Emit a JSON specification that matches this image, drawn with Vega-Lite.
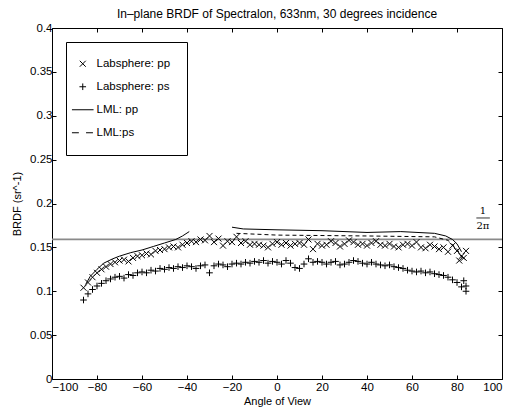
{
  "$schema": "https://vega.github.io/schema/vega-lite/v6.json",
  "width": 450,
  "height": 351,
  "autosize": {"type": "none"},
  "padding": {"left": 52, "top": 28, "right": 10, "bottom": 33},
  "background": "white",
  "title": {"text": "In–plane BRDF of Spectralon, 633nm, 30 degrees incidence", "font": "Liberation Sans", "fontSize": 12, "fontWeight": "normal", "color": "black", "offset": 1},
  "config": {
    "view": {"stroke": null},
    "axis": {"domainColor": "black", "tickColor": "black", "labelColor": "black", "titleColor": "black", "labelFont": "Liberation Sans", "titleFont": "Liberation Sans", "labelFontSize": 11.5, "titleFontSize": 11, "titleFontWeight": "normal", "grid": false, "tickSize": -4, "domainWidth": 1}
  },
  "datasets": {
    "pts": [
      {"a": -86, "v": 0.104, "s": "Labsphere: pp"}, {"a": -84, "v": 0.110, "s": "Labsphere: pp"}, {"a": -82, "v": 0.116, "s": "Labsphere: pp"}, {"a": -80, "v": 0.121, "s": "Labsphere: pp"}, {"a": -78, "v": 0.125, "s": "Labsphere: pp"}, {"a": -76, "v": 0.128, "s": "Labsphere: pp"}, {"a": -74, "v": 0.131, "s": "Labsphere: pp"}, {"a": -72, "v": 0.133, "s": "Labsphere: pp"}, {"a": -70, "v": 0.135, "s": "Labsphere: pp"}, {"a": -68, "v": 0.136, "s": "Labsphere: pp"}, {"a": -66, "v": 0.134, "s": "Labsphere: pp"}, {"a": -64, "v": 0.138, "s": "Labsphere: pp"}, {"a": -62, "v": 0.140, "s": "Labsphere: pp"}, {"a": -60, "v": 0.141, "s": "Labsphere: pp"}, {"a": -58, "v": 0.143, "s": "Labsphere: pp"}, {"a": -56, "v": 0.142, "s": "Labsphere: pp"}, {"a": -54, "v": 0.146, "s": "Labsphere: pp"}, {"a": -52, "v": 0.147, "s": "Labsphere: pp"}, {"a": -50, "v": 0.148, "s": "Labsphere: pp"}, {"a": -48, "v": 0.150, "s": "Labsphere: pp"}, {"a": -46, "v": 0.151, "s": "Labsphere: pp"}, {"a": -44, "v": 0.150, "s": "Labsphere: pp"}, {"a": -42, "v": 0.153, "s": "Labsphere: pp"}, {"a": -40, "v": 0.155, "s": "Labsphere: pp"}, {"a": -38, "v": 0.157, "s": "Labsphere: pp"}, {"a": -36, "v": 0.156, "s": "Labsphere: pp"}, {"a": -34, "v": 0.159, "s": "Labsphere: pp"}, {"a": -32, "v": 0.158, "s": "Labsphere: pp"}, {"a": -30, "v": 0.163, "s": "Labsphere: pp"}, {"a": -28, "v": 0.156, "s": "Labsphere: pp"}, {"a": -26, "v": 0.160, "s": "Labsphere: pp"}, {"a": -24, "v": 0.152, "s": "Labsphere: pp"}, {"a": -22, "v": 0.157, "s": "Labsphere: pp"}, {"a": -20, "v": 0.156, "s": "Labsphere: pp"}, {"a": -18, "v": 0.162, "s": "Labsphere: pp"}, {"a": -16, "v": 0.155, "s": "Labsphere: pp"}, {"a": -14, "v": 0.157, "s": "Labsphere: pp"}, {"a": -12, "v": 0.153, "s": "Labsphere: pp"}, {"a": -10, "v": 0.154, "s": "Labsphere: pp"}, {"a": -8, "v": 0.153, "s": "Labsphere: pp"}, {"a": -6, "v": 0.152, "s": "Labsphere: pp"}, {"a": -4, "v": 0.150, "s": "Labsphere: pp"}, {"a": -2, "v": 0.154, "s": "Labsphere: pp"}, {"a": 0, "v": 0.156, "s": "Labsphere: pp"}, {"a": 2, "v": 0.153, "s": "Labsphere: pp"}, {"a": 4, "v": 0.155, "s": "Labsphere: pp"}, {"a": 6, "v": 0.152, "s": "Labsphere: pp"}, {"a": 8, "v": 0.154, "s": "Labsphere: pp"}, {"a": 10, "v": 0.155, "s": "Labsphere: pp"}, {"a": 12, "v": 0.153, "s": "Labsphere: pp"}, {"a": 14, "v": 0.159, "s": "Labsphere: pp"}, {"a": 16, "v": 0.148, "s": "Labsphere: pp"}, {"a": 18, "v": 0.154, "s": "Labsphere: pp"}, {"a": 20, "v": 0.152, "s": "Labsphere: pp"}, {"a": 22, "v": 0.153, "s": "Labsphere: pp"}, {"a": 24, "v": 0.157, "s": "Labsphere: pp"}, {"a": 26, "v": 0.155, "s": "Labsphere: pp"}, {"a": 28, "v": 0.151, "s": "Labsphere: pp"}, {"a": 30, "v": 0.154, "s": "Labsphere: pp"}, {"a": 32, "v": 0.158, "s": "Labsphere: pp"}, {"a": 34, "v": 0.156, "s": "Labsphere: pp"}, {"a": 36, "v": 0.153, "s": "Labsphere: pp"}, {"a": 38, "v": 0.154, "s": "Labsphere: pp"}, {"a": 40, "v": 0.152, "s": "Labsphere: pp"}, {"a": 42, "v": 0.155, "s": "Labsphere: pp"}, {"a": 44, "v": 0.157, "s": "Labsphere: pp"}, {"a": 46, "v": 0.153, "s": "Labsphere: pp"}, {"a": 48, "v": 0.152, "s": "Labsphere: pp"}, {"a": 50, "v": 0.154, "s": "Labsphere: pp"}, {"a": 52, "v": 0.151, "s": "Labsphere: pp"}, {"a": 54, "v": 0.150, "s": "Labsphere: pp"}, {"a": 56, "v": 0.153, "s": "Labsphere: pp"}, {"a": 58, "v": 0.154, "s": "Labsphere: pp"}, {"a": 60, "v": 0.152, "s": "Labsphere: pp"}, {"a": 62, "v": 0.156, "s": "Labsphere: pp"}, {"a": 64, "v": 0.150, "s": "Labsphere: pp"}, {"a": 66, "v": 0.149, "s": "Labsphere: pp"}, {"a": 68, "v": 0.153, "s": "Labsphere: pp"}, {"a": 70, "v": 0.151, "s": "Labsphere: pp"}, {"a": 72, "v": 0.148, "s": "Labsphere: pp"}, {"a": 74, "v": 0.150, "s": "Labsphere: pp"}, {"a": 76, "v": 0.145, "s": "Labsphere: pp"}, {"a": 78, "v": 0.152, "s": "Labsphere: pp"}, {"a": 80, "v": 0.146, "s": "Labsphere: pp"}, {"a": 81, "v": 0.135, "s": "Labsphere: pp"}, {"a": 82, "v": 0.140, "s": "Labsphere: pp"}, {"a": 83, "v": 0.138, "s": "Labsphere: pp"}, {"a": 84, "v": 0.146, "s": "Labsphere: pp"},
      {"a": -86, "v": 0.090, "s": "Labsphere: ps"}, {"a": -84, "v": 0.097, "s": "Labsphere: ps"}, {"a": -82, "v": 0.102, "s": "Labsphere: ps"}, {"a": -80, "v": 0.106, "s": "Labsphere: ps"}, {"a": -78, "v": 0.109, "s": "Labsphere: ps"}, {"a": -76, "v": 0.112, "s": "Labsphere: ps"}, {"a": -74, "v": 0.114, "s": "Labsphere: ps"}, {"a": -72, "v": 0.116, "s": "Labsphere: ps"}, {"a": -70, "v": 0.117, "s": "Labsphere: ps"}, {"a": -68, "v": 0.115, "s": "Labsphere: ps"}, {"a": -66, "v": 0.119, "s": "Labsphere: ps"}, {"a": -64, "v": 0.118, "s": "Labsphere: ps"}, {"a": -62, "v": 0.121, "s": "Labsphere: ps"}, {"a": -60, "v": 0.122, "s": "Labsphere: ps"}, {"a": -58, "v": 0.121, "s": "Labsphere: ps"}, {"a": -56, "v": 0.124, "s": "Labsphere: ps"}, {"a": -54, "v": 0.123, "s": "Labsphere: ps"}, {"a": -52, "v": 0.126, "s": "Labsphere: ps"}, {"a": -50, "v": 0.125, "s": "Labsphere: ps"}, {"a": -48, "v": 0.127, "s": "Labsphere: ps"}, {"a": -46, "v": 0.126, "s": "Labsphere: ps"}, {"a": -44, "v": 0.128, "s": "Labsphere: ps"}, {"a": -42, "v": 0.127, "s": "Labsphere: ps"}, {"a": -40, "v": 0.129, "s": "Labsphere: ps"}, {"a": -38, "v": 0.128, "s": "Labsphere: ps"}, {"a": -36, "v": 0.126, "s": "Labsphere: ps"}, {"a": -34, "v": 0.129, "s": "Labsphere: ps"}, {"a": -32, "v": 0.130, "s": "Labsphere: ps"}, {"a": -30, "v": 0.121, "s": "Labsphere: ps"}, {"a": -28, "v": 0.129, "s": "Labsphere: ps"}, {"a": -26, "v": 0.131, "s": "Labsphere: ps"}, {"a": -24, "v": 0.130, "s": "Labsphere: ps"}, {"a": -22, "v": 0.128, "s": "Labsphere: ps"}, {"a": -20, "v": 0.131, "s": "Labsphere: ps"}, {"a": -18, "v": 0.132, "s": "Labsphere: ps"}, {"a": -16, "v": 0.131, "s": "Labsphere: ps"}, {"a": -14, "v": 0.133, "s": "Labsphere: ps"}, {"a": -12, "v": 0.132, "s": "Labsphere: ps"}, {"a": -10, "v": 0.134, "s": "Labsphere: ps"}, {"a": -8, "v": 0.133, "s": "Labsphere: ps"}, {"a": -6, "v": 0.135, "s": "Labsphere: ps"}, {"a": -4, "v": 0.132, "s": "Labsphere: ps"}, {"a": -2, "v": 0.134, "s": "Labsphere: ps"}, {"a": 0, "v": 0.133, "s": "Labsphere: ps"}, {"a": 2, "v": 0.131, "s": "Labsphere: ps"}, {"a": 4, "v": 0.135, "s": "Labsphere: ps"}, {"a": 6, "v": 0.132, "s": "Labsphere: ps"}, {"a": 8, "v": 0.127, "s": "Labsphere: ps"}, {"a": 10, "v": 0.126, "s": "Labsphere: ps"}, {"a": 12, "v": 0.131, "s": "Labsphere: ps"}, {"a": 14, "v": 0.137, "s": "Labsphere: ps"}, {"a": 16, "v": 0.133, "s": "Labsphere: ps"}, {"a": 18, "v": 0.134, "s": "Labsphere: ps"}, {"a": 20, "v": 0.133, "s": "Labsphere: ps"}, {"a": 22, "v": 0.131, "s": "Labsphere: ps"}, {"a": 24, "v": 0.133, "s": "Labsphere: ps"}, {"a": 26, "v": 0.134, "s": "Labsphere: ps"}, {"a": 28, "v": 0.130, "s": "Labsphere: ps"}, {"a": 30, "v": 0.131, "s": "Labsphere: ps"}, {"a": 32, "v": 0.133, "s": "Labsphere: ps"}, {"a": 34, "v": 0.135, "s": "Labsphere: ps"}, {"a": 36, "v": 0.134, "s": "Labsphere: ps"}, {"a": 38, "v": 0.132, "s": "Labsphere: ps"}, {"a": 40, "v": 0.131, "s": "Labsphere: ps"}, {"a": 42, "v": 0.133, "s": "Labsphere: ps"}, {"a": 44, "v": 0.131, "s": "Labsphere: ps"}, {"a": 46, "v": 0.130, "s": "Labsphere: ps"}, {"a": 48, "v": 0.129, "s": "Labsphere: ps"}, {"a": 50, "v": 0.130, "s": "Labsphere: ps"}, {"a": 52, "v": 0.128, "s": "Labsphere: ps"}, {"a": 54, "v": 0.127, "s": "Labsphere: ps"}, {"a": 56, "v": 0.126, "s": "Labsphere: ps"}, {"a": 58, "v": 0.124, "s": "Labsphere: ps"}, {"a": 60, "v": 0.123, "s": "Labsphere: ps"}, {"a": 62, "v": 0.122, "s": "Labsphere: ps"}, {"a": 64, "v": 0.123, "s": "Labsphere: ps"}, {"a": 66, "v": 0.121, "s": "Labsphere: ps"}, {"a": 68, "v": 0.122, "s": "Labsphere: ps"}, {"a": 70, "v": 0.120, "s": "Labsphere: ps"}, {"a": 72, "v": 0.119, "s": "Labsphere: ps"}, {"a": 74, "v": 0.118, "s": "Labsphere: ps"}, {"a": 76, "v": 0.116, "s": "Labsphere: ps"}, {"a": 78, "v": 0.113, "s": "Labsphere: ps"}, {"a": 80, "v": 0.110, "s": "Labsphere: ps"}, {"a": 82, "v": 0.105, "s": "Labsphere: ps"}, {"a": 83, "v": 0.112, "s": "Labsphere: ps"}, {"a": 84, "v": 0.100, "s": "Labsphere: ps"}, {"a": 84, "v": 0.106, "s": "Labsphere: ps"}
    ],
    "lml": [
      {"a": -85, "v": 0.108, "s": "LML: pp", "seg": "L"}, {"a": -83, "v": 0.117, "s": "LML: pp", "seg": "L"}, {"a": -80, "v": 0.125, "s": "LML: pp", "seg": "L"}, {"a": -77, "v": 0.132, "s": "LML: pp", "seg": "L"}, {"a": -73, "v": 0.137, "s": "LML: pp", "seg": "L"}, {"a": -70, "v": 0.140, "s": "LML: pp", "seg": "L"}, {"a": -65, "v": 0.144, "s": "LML: pp", "seg": "L"}, {"a": -60, "v": 0.147, "s": "LML: pp", "seg": "L"}, {"a": -55, "v": 0.151, "s": "LML: pp", "seg": "L"}, {"a": -50, "v": 0.155, "s": "LML: pp", "seg": "L"}, {"a": -45, "v": 0.159, "s": "LML: pp", "seg": "L"}, {"a": -42, "v": 0.163, "s": "LML: pp", "seg": "L"}, {"a": -39, "v": 0.168, "s": "LML: pp", "seg": "L"},
      {"a": -20, "v": 0.173, "s": "LML: pp", "seg": "R"}, {"a": -15, "v": 0.171, "s": "LML: pp", "seg": "R"}, {"a": 0, "v": 0.170, "s": "LML: pp", "seg": "R"}, {"a": 20, "v": 0.169, "s": "LML: pp", "seg": "R"}, {"a": 40, "v": 0.167, "s": "LML: pp", "seg": "R"}, {"a": 55, "v": 0.168, "s": "LML: pp", "seg": "R"}, {"a": 70, "v": 0.166, "s": "LML: pp", "seg": "R"}, {"a": 75, "v": 0.163, "s": "LML: pp", "seg": "R"}, {"a": 78, "v": 0.159, "s": "LML: pp", "seg": "R"}, {"a": 80, "v": 0.154, "s": "LML: pp", "seg": "R"}, {"a": 82, "v": 0.145, "s": "LML: pp", "seg": "R"}
    ],
    "lmlps": [
      {"a": -18, "v": 0.166, "s": "LML:ps"}, {"a": 0, "v": 0.164, "s": "LML:ps"}, {"a": 40, "v": 0.163, "s": "LML:ps"}, {"a": 70, "v": 0.162, "s": "LML:ps"}, {"a": 76, "v": 0.158, "s": "LML:ps"}, {"a": 80, "v": 0.148, "s": "LML:ps"}, {"a": 83, "v": 0.135, "s": "LML:ps"}
    ],
    "frac": [
      {"a": 91.5, "v": 0.192, "t": "1"},
      {"a": 91.5, "v": 0.174, "t": "2π"}
    ],
    "fracline": [
      {"a": 88.6, "a2": 94.6, "v": 0.1835}
    ]
  },
  "layer": [
    {
      "data": {"values": [{"v": 0.15915}]},
      "mark": {"type": "rule", "color": "#8a8a8a", "strokeWidth": 1.6},
      "encoding": {"y": {"field": "v", "type": "quantitative", "scale": {"domain": [0, 0.4]}, "axis": null}}
    },
    {
      "data": {"name": "pts"},
      "mark": {"type": "point", "filled": false, "color": "black", "strokeWidth": 1, "size": 36, "opacity": 1},
      "encoding": {
        "x": {"field": "a", "type": "quantitative", "scale": {"domain": [-100, 100], "nice": false}, "axis": {"orient": "bottom", "values": [-100, -80, -60, -40, -20, 0, 20, 40, 60, 80, 100], "title": "Angle of View", "labelPadding": 6, "titlePadding": 3}},
        "y": {"field": "v", "type": "quantitative", "scale": {"domain": [0, 0.4], "nice": false}, "axis": {"orient": "left", "values": [0, 0.05, 0.1, 0.15, 0.2, 0.25, 0.3, 0.35, 0.4], "format": "~g", "title": "BRDF (sr^-1)", "labelPadding": 4, "titlePadding": 7}},
        "shape": {
          "field": "s", "type": "nominal",
          "scale": {"domain": ["Labsphere: pp", "Labsphere: ps", "LML: pp", "LML:ps"], "range": ["M-1,-1L1,1M-1,1L1,-1", "M-1.1,0L1.1,0M0,-1.1L0,1.1", "M-3.6,0L3.6,0", "M-3.6,0L-1.3,0M1.1,0L3.4,0"]},
          "legend": {"title": null, "orient": "none", "legendX": 14, "legendY": 14, "padding": 16, "strokeColor": "black", "fillColor": "white", "labelFont": "Liberation Sans", "labelFontSize": 11.5, "labelColor": "black", "rowPadding": 10, "labelOffset": 8, "symbolSize": 36, "symbolStrokeWidth": 1, "symbolStrokeColor": "black", "symbolOffset": -5, "labelLimit": 250, "labelExpr": "datum.label + '\u00a0\u00a0\u00a0\u00a0\u00a0\u00a0'"}
        }
      }
    },
    {
      "data": {"name": "lml"},
      "mark": {"type": "line", "color": "black", "strokeWidth": 1},
      "encoding": {
        "x": {"field": "a", "type": "quantitative", "axis": {"orient": "top", "labels": false, "title": null, "values": [-100, -80, -60, -40, -20, 0, 20, 40, 60, 80, 100]}},
        "y": {"field": "v", "type": "quantitative", "axis": {"orient": "right", "labels": false, "title": null, "values": [0, 0.05, 0.1, 0.15, 0.2, 0.25, 0.3, 0.35, 0.4]}},
        "detail": {"field": "seg", "type": "nominal"}
      }
    },
    {
      "data": {"name": "lmlps"},
      "mark": {"type": "line", "color": "black", "strokeWidth": 1, "strokeDash": [4, 3]},
      "encoding": {
        "x": {"field": "a", "type": "quantitative", "axis": null},
        "y": {"field": "v", "type": "quantitative", "axis": null}
      }
    },
    {
      "data": {"name": "frac"},
      "mark": {"type": "text", "font": "DejaVu Serif", "fontSize": 10, "color": "black", "align": "center", "baseline": "middle"},
      "encoding": {
        "x": {"field": "a", "type": "quantitative", "axis": null},
        "y": {"field": "v", "type": "quantitative", "axis": null},
        "text": {"field": "t"}
      }
    },
    {
      "data": {"name": "fracline"},
      "mark": {"type": "rule", "color": "black", "strokeWidth": 0.8},
      "encoding": {
        "x": {"field": "a", "type": "quantitative", "axis": null},
        "x2": {"field": "a2"},
        "y": {"field": "v", "type": "quantitative", "axis": null}
      }
    }
  ],
  "resolve": {"axis": {"x": "independent", "y": "independent"}}
}
